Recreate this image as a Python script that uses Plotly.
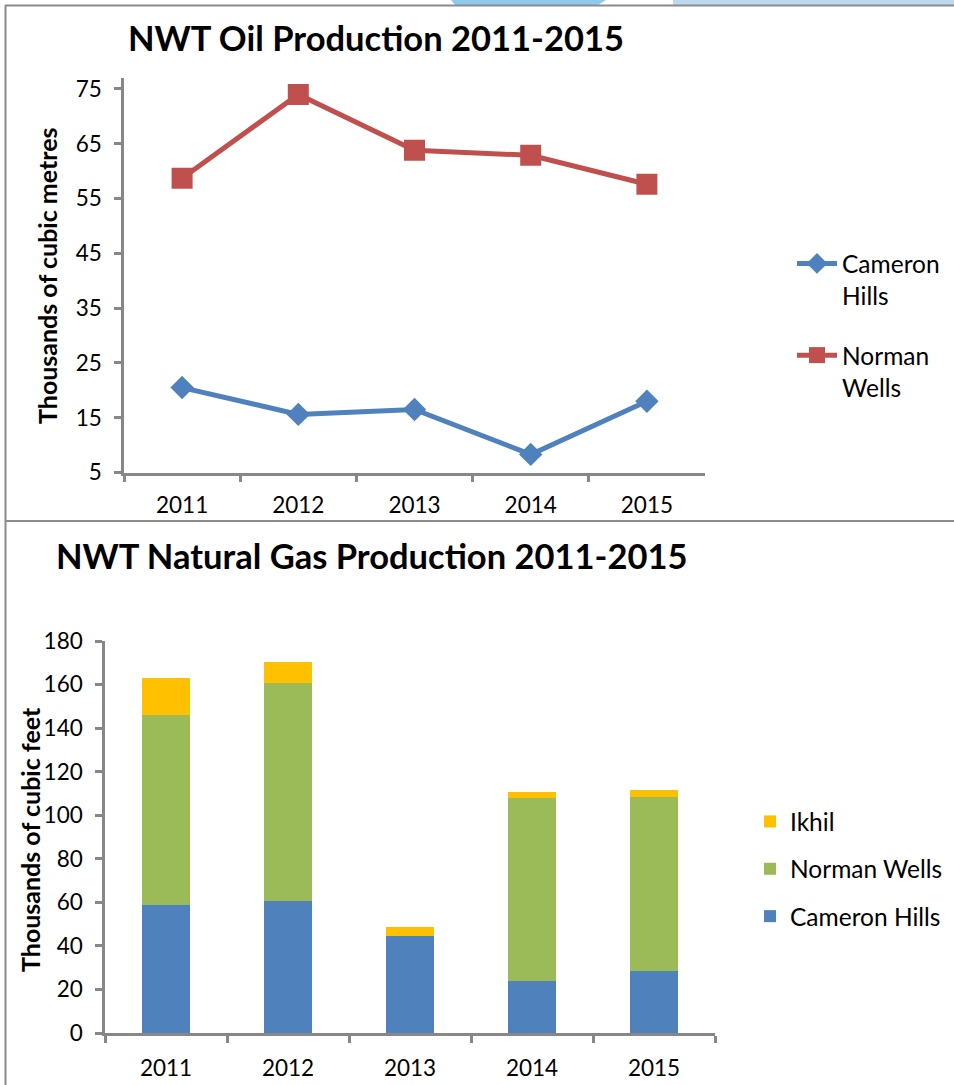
import plotly.graph_objects as go

W, H = 954, 1085

# ---- data ----
years = ["2011", "2012", "2013", "2014", "2015"]

oil_cameron_hills = [20.5, 15.6, 16.5, 8.3, 18.0]
oil_norman_wells = [58.7, 74.0, 63.8, 62.9, 57.6]

gas_cameron_hills = [59, 60.5, 44.5, 24, 28.5]
gas_norman_wells = [87, 100, 0, 84, 80]
gas_ikhil = [17, 10, 4, 2.5, 3]

oil_ticks = [5, 15, 25, 35, 45, 55, 65, 75]
gas_ticks = [0, 20, 40, 60, 80, 100, 120, 140, 160, 180]

# ---- style ----
FONT = "Lato"
BLUE = "#4F81BD"
RED = "#C0504D"
GREEN = "#9BBB59"
GOLD = "#FFC000"
AXIS = "#878787"


def px_x(x):
    return x / W


def px_y(y):
    return 1 - y / H


fig = go.Figure()

fig.add_trace(go.Scatter(
    x=years, y=oil_cameron_hills, name="Cameron<br>Hills", mode="lines+markers",
    line=dict(color=BLUE, width=5), marker=dict(symbol="diamond", size=18, color=BLUE),
    xaxis="x", yaxis="y", legend="legend", legendgroup="oil1"))
fig.add_trace(go.Scatter(
    x=years, y=oil_norman_wells, name="Norman<br>Wells", mode="lines+markers",
    line=dict(color=RED, width=5), marker=dict(symbol="square", size=21, color=RED),
    xaxis="x", yaxis="y", legend="legend", legendgroup="oil2"))

fig.add_trace(go.Bar(x=years, y=gas_cameron_hills, name="Cameron Hills", marker_color=BLUE,
                     marker_line_width=0, width=0.4, xaxis="x2", yaxis="y2",
                     legend="legend2", legendgroup="a", legendrank=3))
fig.add_trace(go.Bar(x=years, y=gas_norman_wells, name="Norman Wells", marker_color=GREEN,
                     marker_line_width=0, width=0.4, xaxis="x2", yaxis="y2",
                     legend="legend2", legendgroup="b", legendrank=2))
fig.add_trace(go.Bar(x=years, y=gas_ikhil, name="Ikhil", marker_color=GOLD,
                     marker_line_width=0, width=0.4, xaxis="x2", yaxis="y2",
                     legend="legend2", legendgroup="c", legendrank=1))

axis_common = dict(showline=True, linecolor=AXIS, linewidth=2.5, showgrid=False,
                   zeroline=False, ticks="outside", tickcolor=AXIS, tickwidth=2.5,
                   ticklen=7, automargin=False,
                   tickfont=dict(family=FONT, size=22.5, color="#000"))

fig.update_layout(
    template="none",
    xaxis=dict(domain=[px_x(124), px_x(705)], anchor="y", type="category",
               range=[-0.5, 4.5], tickson="boundaries", ticklabelstandoff=11, **axis_common),
    yaxis=dict(domain=[px_y(472.5), px_y(78)], anchor="x", range=[5, 77],
               tickvals=oil_ticks, ticklabelstandoff=8, **axis_common),
    xaxis2=dict(domain=[px_x(105), px_x(715)], anchor="y2", type="category",
                range=[-0.5, 4.5], tickson="boundaries", ticklabelstandoff=13, **axis_common),
    yaxis2=dict(domain=[px_y(1033), px_y(641)], anchor="x2", range=[0, 180],
                tickvals=gas_ticks, ticklabelstandoff=8, **axis_common),
)

fig.update_layout(
    width=W, height=H, margin=dict(l=0, r=0, t=0, b=0, pad=0, autoexpand=False),
    paper_bgcolor="white", plot_bgcolor="white", barmode="stack",
    font=dict(family=FONT, color="#000"),
    legend=dict(x=px_x(792), y=px_y(241), xanchor="left", yanchor="top",
                font=dict(family=FONT, size=24.5, color="#000"), valign="top",
                traceorder="grouped", tracegroupgap=25, itemwidth=40,
                bgcolor="rgba(0,0,0,0)", borderwidth=0),
    legend2=dict(x=px_x(750), y=px_y(799), xanchor="left", yanchor="top",
                 font=dict(family=FONT, size=24.5, color="#000"),
                 traceorder="grouped", tracegroupgap=12.5,
                 bgcolor="rgba(0,0,0,0)", borderwidth=0),
    annotations=[
        dict(text="<b>NWT Oil Production 2011-2015</b>", x=px_x(376), y=px_y(37),
             xref="paper", yref="paper", showarrow=False, xanchor="center", yanchor="middle",
             font=dict(family=FONT, size=34.5, color="#000")),
        dict(text="<b>NWT Natural Gas Production 2011-2015</b>", x=px_x(371), y=px_y(555),
             xref="paper", yref="paper", showarrow=False, xanchor="center", yanchor="middle",
             font=dict(family=FONT, size=34.5, color="#000")),
        dict(text="<b>Thousands of cubic metres</b>", x=px_x(47), y=px_y(276),
             xref="paper", yref="paper", showarrow=False, textangle=-90,
             xanchor="center", yanchor="middle", font=dict(family=FONT, size=25, color="#000")),
        dict(text="<b>Thousands of cubic feet</b>", x=px_x(30), y=px_y(840),
             xref="paper", yref="paper", showarrow=False, textangle=-90,
             xanchor="center", yanchor="middle", font=dict(family=FONT, size=25, color="#000")),
    ],
    shapes=[
        dict(type="path", xref="paper", yref="paper",
             path=f"M {px_x(451)},{px_y(0)} L {px_x(606)},{px_y(0)} L {px_x(598)},{px_y(5)} L {px_x(455)},{px_y(5)} Z",
             fillcolor="#8fc9ec", line=dict(width=0), layer="below"),
        dict(type="rect", xref="paper", yref="paper", x0=px_x(673), x1=px_x(954),
             y0=px_y(5), y1=px_y(0), fillcolor="#bdd9ef", line=dict(width=0), layer="below"),
        dict(type="line", xref="paper", yref="paper", x0=px_x(5), x1=1, y0=px_y(5.5), y1=px_y(5.5),
             line=dict(color="#8c8c8c", width=2)),
        dict(type="line", xref="paper", yref="paper", x0=px_x(5), x1=1, y0=px_y(521), y1=px_y(521),
             line=dict(color="#8c8c8c", width=2)),
        dict(type="line", xref="paper", yref="paper", x0=px_x(5.5), x1=px_x(5.5), y0=px_y(5), y1=0,
             line=dict(color="#8c8c8c", width=2)),
    ],
)

fig.write_html(
    "out.html",
    config={"displayModeBar": False},
    post_script="document.body.style.margin='0';document.body.style.padding='0';",
)
